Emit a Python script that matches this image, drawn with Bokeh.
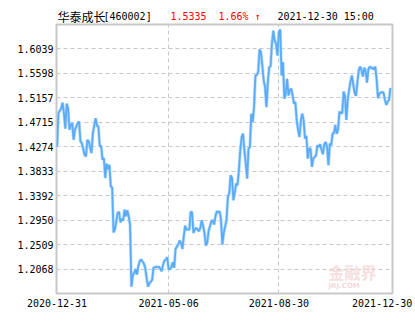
from bokeh.plotting import figure
from bokeh.layouts import column
from bokeh.models import Range1d, FixedTicker, Label, PrintfTickFormatter
from bokeh.embed import file_html
from bokeh.resources import INLINE

# trading-day index (0 = 2020-12-31) and unit NAV
day = [0, 1, 3, 4, 5, 6, 7, 8, 9, 10, 11, 12, 13, 15, 16, 17, 18, 20, 21, 22, 23, 25, 26, 28, 29, 30,
       31, 32, 33, 34, 35, 36, 37, 38, 39, 40, 41,
       42, 44, 45, 46, 47, 48, 49, 50, 51, 52, 53, 54, 55, 56, 57, 58, 59, 60, 61, 63, 64, 65, 66, 67,
       68, 69, 70, 72, 73, 74, 76, 77, 78, 79, 80, 81,
       82, 83, 84, 85, 86, 88, 89, 90, 91, 92, 93, 94, 95, 96, 97, 98, 99, 100, 101, 103, 104, 105, 106,
       107, 108, 109, 110, 111, 112, 113, 114, 115, 116, 117, 118, 119, 120, 121,
       123, 124, 125, 126, 127, 128, 129, 130, 131, 132, 133, 134, 135, 136, 137, 138, 139, 140, 141, 142,
       143, 144, 145, 146, 147, 148, 149, 150, 151, 152, 153, 154, 155, 156, 157, 158, 159, 160, 161, 162,
       163, 164, 165, 166, 167, 168, 169, 170, 171, 172, 173, 174, 175, 176, 177, 178, 179, 180, 181, 182,
       183, 184, 185, 186, 187, 188, 189, 190, 191, 192, 193, 194, 195, 196, 197, 198, 199, 200, 201, 202,
       203, 204,
       205, 206, 207, 208, 209, 210, 211, 212, 213, 214, 215, 216, 217, 218, 219, 220, 221, 222, 223, 224,
       225, 226, 227, 228, 229, 230, 231, 232, 233, 234, 235, 236, 237, 238, 239, 240, 241, 242]
nav = [1.428, 1.488, 1.497, 1.507, 1.488, 1.460, 1.505, 1.497, 1.458, 1.467, 1.470, 1.440, 1.458, 1.470,
       1.473, 1.437, 1.434, 1.413, 1.410, 1.440, 1.437, 1.416, 1.452, 1.479, 1.465, 1.464,
       1.428, 1.429, 1.404, 1.407, 1.371, 1.397, 1.387, 1.395, 1.356, 1.354, 1.273,
       1.278, 1.308, 1.310, 1.291, 1.297, 1.294, 1.314, 1.302, 1.313, 1.302, 1.287, 1.175, 1.196, 1.199,
       1.207, 1.197, 1.212, 1.221, 1.224, 1.217, 1.209, 1.191, 1.175, 1.181,
       1.184, 1.187, 1.209, 1.211, 1.210, 1.211, 1.203, 1.215, 1.222, 1.224, 1.228, 1.206,
       1.207, 1.210, 1.219, 1.209, 1.243, 1.251, 1.258, 1.254, 1.243, 1.266, 1.285, 1.278, 1.278, 1.278,
       1.310, 1.309, 1.272, 1.278, 1.281, 1.275, 1.281, 1.295, 1.285,
       1.272, 1.249, 1.254, 1.275, 1.284, 1.293, 1.295, 1.287, 1.302, 1.311, 1.309, 1.311, 1.296, 1.251, 1.272,
       1.295, 1.337, 1.344, 1.376, 1.371, 1.331, 1.344, 1.361, 1.358, 1.385, 1.421, 1.445, 1.451, 1.421,
       1.397, 1.370, 1.424, 1.427, 1.487, 1.472,
       1.499, 1.556, 1.557, 1.562, 1.603, 1.598, 1.574, 1.547, 1.535, 1.499, 1.544, 1.571, 1.573, 1.614,
       1.637, 1.619, 1.613, 1.592, 1.634, 1.639,
       1.556, 1.580, 1.514, 1.523, 1.550, 1.520, 1.530, 1.532, 1.520, 1.505, 1.508, 1.475, 1.457, 1.445,
       1.475, 1.487, 1.475, 1.442, 1.447, 1.406,
       1.424, 1.424, 1.391, 1.406, 1.409, 1.412, 1.430, 1.427, 1.432, 1.422, 1.414, 1.432, 1.436, 1.427,
       1.394, 1.433, 1.430, 1.451, 1.452, 1.467,
       1.451, 1.458,
       1.491, 1.488, 1.488, 1.527, 1.519, 1.476, 1.512, 1.530, 1.545, 1.556, 1.540, 1.525, 1.519, 1.543,
       1.565, 1.572, 1.566, 1.554, 1.570, 1.564,
       1.543, 1.567, 1.572, 1.569, 1.570, 1.567, 1.572, 1.549, 1.515, 1.523, 1.525, 1.526, 1.525, 1.512,
       1.503, 1.509, 1.512, 1.5335]

y_ticks = [1.2068, 1.2509, 1.2950, 1.3392, 1.3833, 1.4274, 1.4715, 1.5157, 1.5598, 1.6039]
y_lo, y_hi = 1.1627, 1.6480
x_tick_days = [0, 81, 161, 236]
x_tick_labels = ["2020-12-31", "2021-05-06", "2021-08-30", "2021-12-30"]
x_grid_days = [81, 161]

fund_name = "华泰成长"
fund_code = "[460002]"
last_nav = "1.5335"
last_chg = "1.66% ↑"
last_time = "2021-12-30 15:00"

MONO = "DejaVu Sans Mono"
GRID = "#c8c8c8"
HEAD_H = 23
FRAME_LEFT = 56

xr = Range1d(-0.4, 243.5)

# ---- main chart ----
p = figure(width=415, height=330 - HEAD_H, output_backend="svg", toolbar_location=None,
           x_range=xr, y_range=Range1d(y_lo, y_hi),
           min_border_left=FRAME_LEFT, min_border_right=23, min_border_top=1, min_border_bottom=37)
p.background_fill_color = "white"
p.border_fill_color = "white"
p.outline_line_color = GRID
p.outline_line_width = 2

p.line(day, nav, line_color="#bcdcfb", line_width=3.2)
p.line(day, nav, line_color="#5aacf8", line_width=1.8)

p.yaxis.ticker = FixedTicker(ticks=y_ticks)
p.yaxis.formatter = PrintfTickFormatter(format="%.4f")
p.yaxis.axis_line_color = None
p.yaxis.major_tick_line_color = None
p.yaxis.minor_tick_line_color = None
p.yaxis.major_tick_out = 0
p.yaxis.major_label_standoff = 3
p.yaxis.major_label_text_font = MONO
p.yaxis.major_label_text_font_size = "10px"
p.yaxis.major_label_text_color = "black"

p.xaxis.ticker = FixedTicker(ticks=x_tick_days)
p.xaxis.major_label_overrides = {d: lab for d, lab in zip(x_tick_days, x_tick_labels)}
p.xaxis.axis_line_color = None
p.xaxis.major_tick_line_color = None
p.xaxis.minor_tick_line_color = None
p.xaxis.major_tick_out = 0
p.xaxis.major_label_standoff = 5
p.xaxis.major_label_text_font = MONO
p.xaxis.major_label_text_font_size = "10px"
p.xaxis.major_label_text_color = "black"

p.ygrid.ticker = FixedTicker(ticks=y_ticks)
p.ygrid.grid_line_color = GRID
p.ygrid.grid_line_dash = "4 3"
p.ygrid.grid_line_width = 1
p.xgrid.ticker = FixedTicker(ticks=x_grid_days)
p.xgrid.grid_line_color = GRID
p.xgrid.grid_line_dash = "4 3"
p.xgrid.grid_line_width = 1

# watermark
p.add_layout(Label(x=xr.end, y=y_lo, x_offset=-64, y_offset=22, text="金融界",
                   text_font="Noto Sans CJK SC", text_font_size="16px", text_font_style="bold",
                   text_color="#efcfcf", text_alpha=0.7, text_align="left", text_baseline="middle"))
p.add_layout(Label(x=xr.end, y=y_lo, x_offset=-64, y_offset=8, text="JRJ.COM",
                   text_font="DejaVu Sans", text_font_size="7px", text_font_style="bold",
                   text_color="#efcfcf", text_alpha=0.8, text_align="left", text_baseline="middle"))

# ---- header strip: frame is aligned with the main frame, share its x range ----
h = figure(width=415, height=HEAD_H, output_backend="svg", toolbar_location=None,
           x_range=xr, y_range=Range1d(0, HEAD_H),
           min_border_left=FRAME_LEFT, min_border_right=23, min_border_top=0, min_border_bottom=0,
           outline_line_color=None)
h.axis.visible = False
h.grid.visible = False
h.background_fill_color = "white"
h.border_fill_color = "white"

def head(text, px, color="black", font=MONO, size="10px"):
    h.add_layout(Label(x=xr.start, y=HEAD_H - 15.5, x_offset=px - FRAME_LEFT, text=text,
                       text_font=font, text_font_size=size, text_color=color,
                       text_align="left", text_baseline="middle"))

head(fund_name, 57, font="Noto Sans CJK SC", size="12px")
head(fund_code, 103)
head(last_nav, 170, color="#ff0000")
head(last_chg, 218, color="#ff0000")
head(last_time, 277)

layout = column(h, p, spacing=0)
open("out.html", "w").write(file_html(layout, INLINE))
